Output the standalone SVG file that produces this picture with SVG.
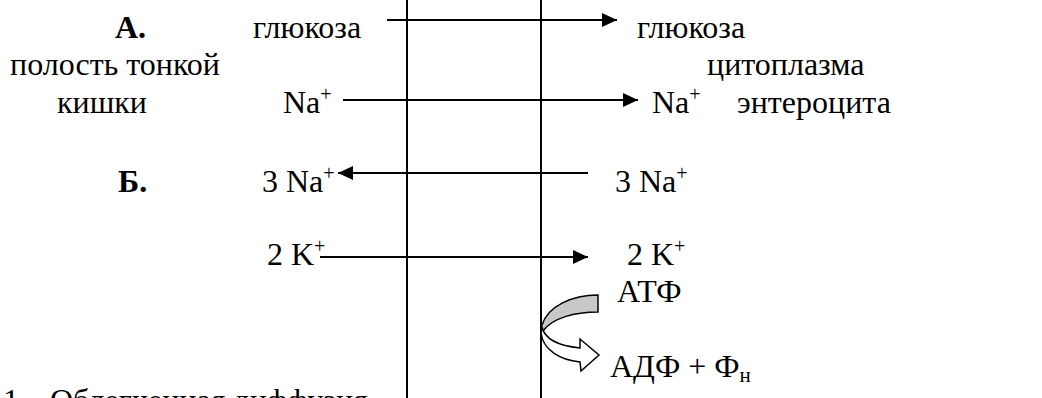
<svg xmlns="http://www.w3.org/2000/svg" width="1042" height="398" viewBox="0 0 1042 398">
<defs>
<style>
text{font-family:"Liberation Serif","Times New Roman",serif;font-size:32px;fill:#000}
.b{font-weight:bold}
.sup{font-size:20px}
.sub{font-size:21px}
.ln{stroke:#000;stroke-width:2;fill:none}
</style>
<marker id="ah" viewBox="0 0 15 14" refX="15" refY="7" markerWidth="15" markerHeight="14" markerUnits="userSpaceOnUse" orient="auto">
<path d="M0,0 L15,7 L0,14 Z" fill="#000"/>
</marker>
</defs>
<rect width="1042" height="398" fill="#fff"/>
<g id="membrane">
<line class="ln" x1="407" y1="0" x2="407" y2="398"/>
<line class="ln" x1="541" y1="0" x2="541" y2="398"/>
</g>
<g id="connectors">
<line class="ln" x1="387" y1="20" x2="617" y2="20" marker-end="url(#ah)"/>
<line class="ln" x1="343" y1="100" x2="638" y2="100" marker-end="url(#ah)"/>
<line class="ln" x1="588" y1="173" x2="338" y2="173" marker-end="url(#ah)"/>
<line class="ln" x1="320" y1="257" x2="588" y2="257" marker-end="url(#ah)"/>
</g>
<g id="atp-arrow">
<path d="M598,295 L598,312 C575,312 552,318 543,331 C541,329 541,327 542,325 C548,306 572,295 598,295 Z" fill="#c8c8c8" stroke="#000" stroke-width="1.5"/>
<path d="M542,327 C545,340 560,346 580,348 L580,339 L599,355 L581,371 L580,362 C560,360 543,350 541,333 Z" fill="#fff" stroke="#000" stroke-width="1.5"/>
</g>
<g id="labels">
<text class="b" x="115" y="38">А.</text>
<text class="b" x="118" y="192">Б.</text>
<text x="10" y="75">полость тонкой</text>
<text x="57" y="113">кишки</text>
<text x="707" y="75">цитоплазма</text>
<text x="737" y="113">энтероцита</text>
</g>
<g id="n-glc-left"><text x="253" y="38">глюкоза</text></g>
<g id="n-glc-right"><text x="637" y="38">глюкоза</text></g>
<g id="n-na-left"><text x="283" y="113">Na<tspan class="sup" dy="-12">+</tspan></text></g>
<g id="n-na-right"><text x="652" y="113">Na<tspan class="sup" dy="-12">+</tspan></text></g>
<g id="n-3na-left"><text x="262" y="192">3 Na<tspan class="sup" dy="-12">+</tspan></text></g>
<g id="n-3na-right"><text x="615" y="192">3 Na<tspan class="sup" dy="-12">+</tspan></text></g>
<g id="n-2k-left"><text x="267" y="265">2 K<tspan class="sup" dy="-12">+</tspan></text></g>
<g id="n-2k-right"><text x="627" y="265">2 K<tspan class="sup" dy="-12">+</tspan></text></g>
<g id="n-atp"><text x="617" y="302">АТФ</text></g>
<g id="n-adp"><text x="610" y="377">АДФ + Ф<tspan class="sub" dy="5">н</tspan></text></g>
<g id="footer"><text x="3" y="411">1.<tspan x="50">Облегченная диффузия</tspan></text></g>
</svg>
